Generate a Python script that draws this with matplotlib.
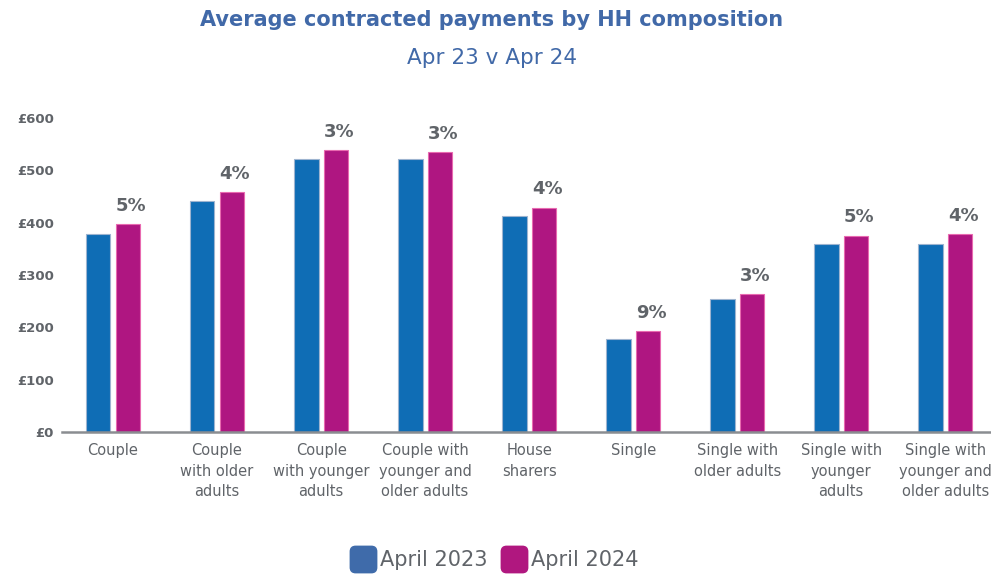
import numpy as np
import matplotlib
matplotlib.use('Agg')
import matplotlib.pyplot as plt
from matplotlib.patches import FancyBboxPatch
from matplotlib.lines import Line2D

# ---------------------------------------------------------------------------
# Data
# ---------------------------------------------------------------------------
categories = [
    'Couple',
    'Couple\nwith older\nadults',
    'Couple\nwith younger\nadults',
    'Couple with\nyounger and\nolder adults',
    'House\nsharers',
    'Single',
    'Single with\nolder adults',
    'Single with\nyounger\nadults',
    'Single with\nyounger and\nolder adults',
]
apr_2023 = [378, 442, 522, 522, 413, 178, 254, 359, 359]
apr_2024 = [397, 458, 539, 535, 429, 193, 263, 375, 378]
pct_change = ['5%', '4%', '3%', '3%', '4%', '9%', '3%', '5%', '4%']
yticks = [0, 100, 200, 300, 400, 500, 600]

BLUE = '#0F6DB5'
MAGENTA = '#AF1681'
TITLE_BLUE = '#4169A8'
GREY_TXT = '#606469'
FONT = 'DejaVu Sans'

# rounded square used as legend swatch
ROUND_SQ = FancyBboxPatch((-0.5, -0.5), 1, 1,
                          boxstyle='round,pad=0,rounding_size=0.2').get_path()

fig = plt.figure(figsize=(9.91, 5.76), dpi=100)
ax = fig.add_axes([0.0626, 0.25, 0.9374, 0.545])

x = np.arange(len(categories))
w = 0.235
off = 0.142
ax.bar(x - off, apr_2023, width=w, color=BLUE, edgecolor='#9DB4D0', linewidth=0.8)
ax.bar(x + off, apr_2024, width=w, color=MAGENTA, edgecolor='#E86AB0', linewidth=0.8)

for xi, v, p in zip(x, apr_2024, pct_change):
    ax.text(xi + off + 0.03, v + 18, p, ha='center', va='bottom',
            fontsize=13, fontweight='bold', color=GREY_TXT, family=FONT,
            clip_on=False)

ax.set_xlim(-0.49, 8.44)
ax.set_ylim(0, 600)
ax.set_yticks(yticks)
ax.set_yticklabels([f'£{t}' for t in yticks], fontsize=9.5, fontweight='bold',
                   color=GREY_TXT, family=FONT)
ax.set_xticks(x)
ax.set_xticklabels(categories, fontsize=10.5, color=GREY_TXT, family=FONT,
                   linespacing=1.45)
ax.tick_params(axis='y', length=0, pad=6)
ax.tick_params(axis='x', length=0, pad=8)
for s in ('top', 'right', 'left'):
    ax.spines[s].set_visible(False)
ax.spines['bottom'].set_color('#8A8D91')
ax.spines['bottom'].set_linewidth(1.8)

# Titles
fig.text(0.4965, 0.965, 'Average contracted payments by HH composition',
         ha='center', va='center', fontsize=15, fontweight='bold',
         color=TITLE_BLUE, family=FONT)
fig.text(0.4965, 0.9, 'Apr 23 v Apr 24', ha='center', va='center',
         fontsize=15.5, color=TITLE_BLUE, family=FONT)

# Legend
handles = [
    Line2D([], [], marker=ROUND_SQ, linestyle='none', markersize=19,
           markerfacecolor='#3F6BAA', markeredgecolor='#3F6BAA'),
    Line2D([], [], marker=ROUND_SQ, linestyle='none', markersize=19,
           markerfacecolor='#B0177F', markeredgecolor='#B0177F'),
]
leg = fig.legend(handles, ['April 2023', 'April 2024'], loc='center',
                 bbox_to_anchor=(0.5, 0.027), ncol=2, frameon=False,
                 handlelength=1.0, handletextpad=0.3, columnspacing=0.8,
                 prop={'family': FONT, 'size': 15})
for t in leg.get_texts():
    t.set_color(GREY_TXT)

fig.savefig('out.png', dpi=100)
